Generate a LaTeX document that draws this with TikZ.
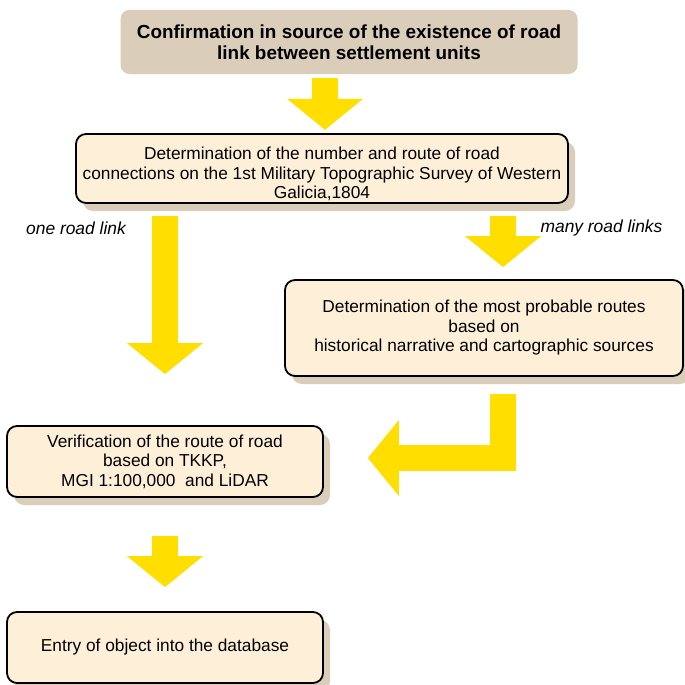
\documentclass[tikz,border=0pt]{standalone}
\usepackage{fontspec}
\setmainfont{Liberation Sans}
\usetikzlibrary{arrows.meta, positioning, shadows}

\definecolor{roadyellow}{RGB}{255,222,0}
\definecolor{boxcream}{RGB}{254,240,216}
\definecolor{boxtan}{RGB}{218,205,186}

\begin{document}
\begin{tikzpicture}[
    x=1pt, y=-1pt,
    stepbox/.style={rectangle, draw, line width=1.8pt, rounded corners=10pt, fill=boxcream,
        drop shadow={shadow xshift=7pt, shadow yshift=-8pt, fill=boxtan, opacity=1},
        inner sep=0pt, align=center, font=\fontsize{17.3}{19.5}\selectfont},
    headbox/.style={rectangle, rounded corners=9pt, fill=boxtan, inner sep=0pt, align=center,
        font=\fontsize{18.9}{21}\selectfont\bfseries},
    blockarrow/.style={draw=roadyellow, line width=26.6pt, line join=miter,
        -{Triangle[width=76pt, length=31pt, line width=0pt]}},
    linklabel/.style={font=\fontsize{17.4}{19}\selectfont\itshape}
]
    \useasboundingbox (0,0) rectangle (685,685);

    % Boxes
    \node[headbox, minimum width=457pt, minimum height=64pt] (confirm) at (349,42)
        {Confirmation in source of the existence of road\\link between settlement units};
    \node[stepbox, minimum width=492pt, minimum height=69pt] (count) at (322,168.5)
        {\rule{0pt}{24pt}Determination of the number and route of road\\connections on the 1st Military Topographic Survey of Western\\Galicia,1804};
    \node[stepbox, minimum width=398pt, minimum height=96pt] (routes) at (484,328)
        {Determination of the most probable routes\\based on\\historical narrative and cartographic sources};
    \node[stepbox, minimum width=316pt, minimum height=71pt] (verify) at (165,461.5)
        {Verification of the route of road\\based on TKKP,\\MGI 1:100,000\ \ and LiDAR};
    \node[stepbox, minimum width=316pt, minimum height=71pt] (entry) at (165,647.5)
        {Entry of object into the database};

    % Arrows
    \draw[blockarrow, shorten <=3.7pt, shorten >=3.3pt]
        ([xshift=3pt]count.north |- confirm.south) -- ([xshift=3pt]count.north);
    \draw[blockarrow, shorten <=12pt, shorten >=51pt] (verify.north |- count.south) -- (verify.north);
    \draw[blockarrow, shorten <=12pt, shorten >=12pt]
        ([xshift=19pt]routes.north |- count.south) -- ([xshift=19pt]routes.north);
    \draw[blockarrow, shorten <=17pt, shorten >=44pt]
        ([xshift=19pt]routes.south) |- ([yshift=3.5pt]verify.east);
    \draw[blockarrow, shorten <=38pt, shorten >=24pt] (verify.south) -- (entry.north);

    % Link labels
    \node[linklabel] (one) at (76,228) {one road link};
    \node[linklabel] (many) at (601.5,228) {many road links};
\end{tikzpicture}
\end{document}
